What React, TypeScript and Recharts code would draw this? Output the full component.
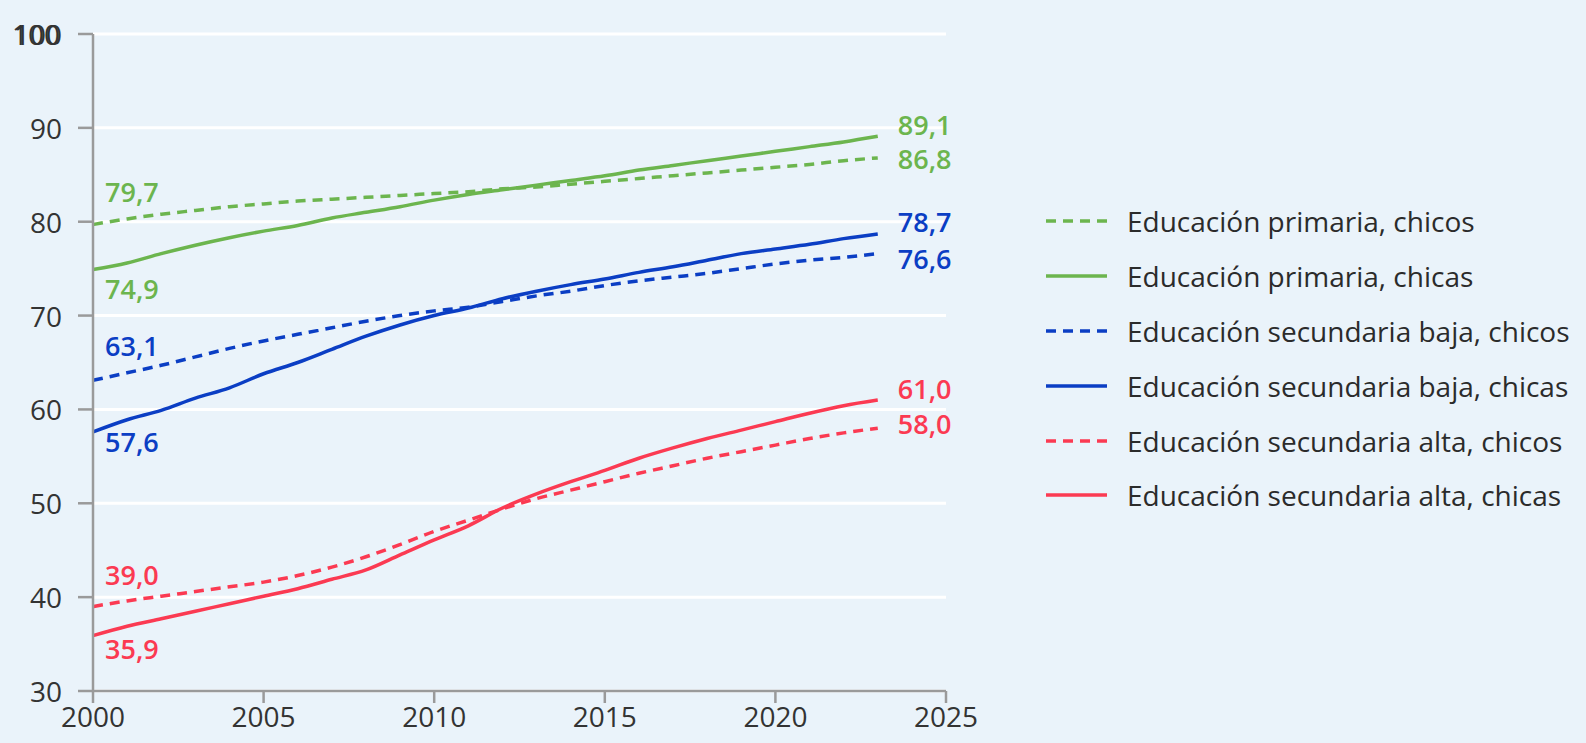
import React from "react";
import { LineChart, Line, XAxis, YAxis, CartesianGrid, Legend } from "recharts";

const years = [2000, 2001, 2002, 2003, 2004, 2005, 2006, 2007, 2008, 2009, 2010, 2011, 2012, 2013, 2014, 2015, 2016, 2017, 2018, 2019, 2020, 2021, 2022, 2023];

const primariaChicos = [79.7, 80.3, 80.8, 81.2, 81.6, 81.9, 82.2, 82.4, 82.6, 82.8, 83.0, 83.2, 83.5, 83.7, 84.0, 84.3, 84.6, 84.9, 85.2, 85.5, 85.8, 86.1, 86.5, 86.8];
const primariaChicas = [74.9, 75.6, 76.6, 77.5, 78.3, 79.0, 79.6, 80.4, 81.0, 81.6, 82.3, 82.9, 83.4, 83.9, 84.4, 84.9, 85.5, 86.0, 86.5, 87.0, 87.5, 88.0, 88.5, 89.1];
const secBajaChicos = [63.1, 63.9, 64.7, 65.6, 66.5, 67.3, 68.0, 68.7, 69.4, 70.0, 70.5, 70.9, 71.5, 72.1, 72.6, 73.2, 73.7, 74.1, 74.5, 75.0, 75.5, 75.9, 76.2, 76.6];
const secBajaChicas = [57.6, 58.9, 59.9, 61.2, 62.3, 63.8, 65.0, 66.4, 67.8, 69.0, 70.0, 70.8, 71.8, 72.6, 73.3, 73.9, 74.6, 75.2, 75.9, 76.6, 77.1, 77.6, 78.2, 78.7];
const secAltaChicos = [39.0, 39.6, 40.1, 40.6, 41.1, 41.6, 42.3, 43.2, 44.3, 45.6, 47.0, 48.2, 49.4, 50.5, 51.4, 52.3, 53.2, 54.0, 54.8, 55.5, 56.2, 56.9, 57.5, 58.0];
const secAltaChicas = [35.9, 36.9, 37.7, 38.5, 39.3, 40.1, 40.9, 41.9, 42.9, 44.5, 46.1, 47.6, 49.5, 51.0, 52.3, 53.5, 54.8, 55.9, 56.9, 57.8, 58.7, 59.6, 60.4, 61.0];

const xTicks = [2000, 2005, 2010, 2015, 2020, 2025];
const yTicks = [30, 40, 50, 60, 70, 80, 90, 100];

const GREEN = "#6cb54e";
const BLUE = "#0b3ec4";
const RED = "#fb3a52";
const FONT = "'Open Sans', 'Noto Sans', sans-serif";
const TICK_COLOR = "#333333";

const series = [
  { key: "pc", name: "Educación primaria, chicos", values: primariaChicos, color: GREEN, dashed: true, startDy: -33, endDy: 1 },
  { key: "pa", name: "Educación primaria, chicas", values: primariaChicas, color: GREEN, dashed: false, startDy: 19, endDy: -12 },
  { key: "bc", name: "Educación secundaria baja, chicos", values: secBajaChicos, color: BLUE, dashed: true, startDy: -35, endDy: 5 },
  { key: "ba", name: "Educación secundaria baja, chicas", values: secBajaChicas, color: BLUE, dashed: false, startDy: 10, endDy: -12 },
  { key: "ac", name: "Educación secundaria alta, chicos", values: secAltaChicos, color: RED, dashed: true, startDy: -32, endDy: -5 },
  { key: "aa", name: "Educación secundaria alta, chicas", values: secAltaChicas, color: RED, dashed: false, startDy: 13, endDy: -12 },
];

const data = years.map((year, i) => {
  const row: Record<string, number> = { year };
  series.forEach((s) => {
    row[s.key] = s.values[i];
  });
  return row;
});

const fmt = (v: number) => v.toFixed(1).replace(".", ",");

const makeLabel = (s: typeof series[number]) => (props: any) => {
  const { x, y, index, value } = props;
  const last = s.values.length - 1;
  if (index !== 0 && index !== last) return null;
  const isStart = index === 0;
  return (
    <text
      key={`${s.key}-${index}`}
      x={isStart ? x + 12 : x + 20}
      y={y + (isStart ? s.startDy : s.endDy)}
      dominantBaseline="central"
      textAnchor="start"
      fill={s.color}
      fontSize={27}
      fontWeight={600}
      fontFamily={FONT}
    >
      {fmt(Number(value))}
    </text>
  );
};

const YTick = (props: any) => {
  const { x, y, payload } = props;
  const v = payload.value;
  const common = {
    y,
    textAnchor: "end" as const,
    dominantBaseline: "central" as const,
    fill: TICK_COLOR,
    fontSize: 28,
    fontFamily: FONT,
  };
  if (v === 100) {
    return (
      <g>
        <text {...common} x={x - 2}>{v}</text>
        <text {...common} x={x}>{v}</text>
      </g>
    );
  }
  return <text {...common} x={x}>{v}</text>;
};

const renderLegend = () => (
  <div style={{ fontFamily: FONT }}>
    {series.map((s) => (
      <div key={s.key} style={{ display: "flex", alignItems: "center", height: 54.8 }}>
        <svg width={82} height={10}>
          <line
            x1={1}
            y1={5}
            x2={62}
            y2={5}
            stroke={s.color}
            strokeWidth={3.5}
            strokeDasharray={s.dashed ? "10 7" : undefined}
          />
        </svg>
        <span style={{ fontSize: 28, color: "#2b2b2b", whiteSpace: "nowrap" }}>{s.name}</span>
      </div>
    ))}
  </div>
);

export default function App() {
  return (
    <div style={{ position: "absolute", left: 0, top: 0, width: 1586, height: 743, background: "#eaf3fa", overflow: "hidden" }}>
      <LineChart
        width={1586}
        height={743}
        data={data}
        margin={{ top: 34, right: 640, bottom: 0, left: 0 }}
      >
        <CartesianGrid horizontal vertical={false} stroke="#ffffff" strokeWidth={3} />
        <XAxis
          dataKey="year"
          type="number"
          domain={[2000, 2025]}
          ticks={xTicks}
          height={52}
          interval={0}
          axisLine={{ stroke: "#9a9a9a", strokeWidth: 2.5 }}
          tickLine={{ stroke: "#9a9a9a", strokeWidth: 2.5 }}
          tickSize={12}
          tickMargin={4}
          tick={{ fill: TICK_COLOR, fontSize: 28, fontFamily: FONT }}
        />
        <YAxis
          type="number"
          domain={[30, 100]}
          ticks={yTicks}
          width={93}
          interval={0}
          axisLine={{ stroke: "#9a9a9a", strokeWidth: 2.5 }}
          tickLine={{ stroke: "#9a9a9a", strokeWidth: 2.5 }}
          tickSize={15}
          tickMargin={16}
          tick={<YTick />}
        />
        <Legend
          layout="vertical"
          align="center"
          verticalAlign="middle"
          content={renderLegend}
          wrapperStyle={{ left: 1045, top: 194, width: 541 }}
        />
        {series.map((s) => (
          <Line
            key={s.key}
            dataKey={s.key}
            name={s.name}
            type="monotone"
            stroke={s.color}
            strokeWidth={3.5}
            strokeDasharray={s.dashed ? "10 7" : undefined}
            dot={false}
            activeDot={false}
            isAnimationActive={false}
            label={makeLabel(s)}
          />
        ))}
      </LineChart>
    </div>
  );
}
